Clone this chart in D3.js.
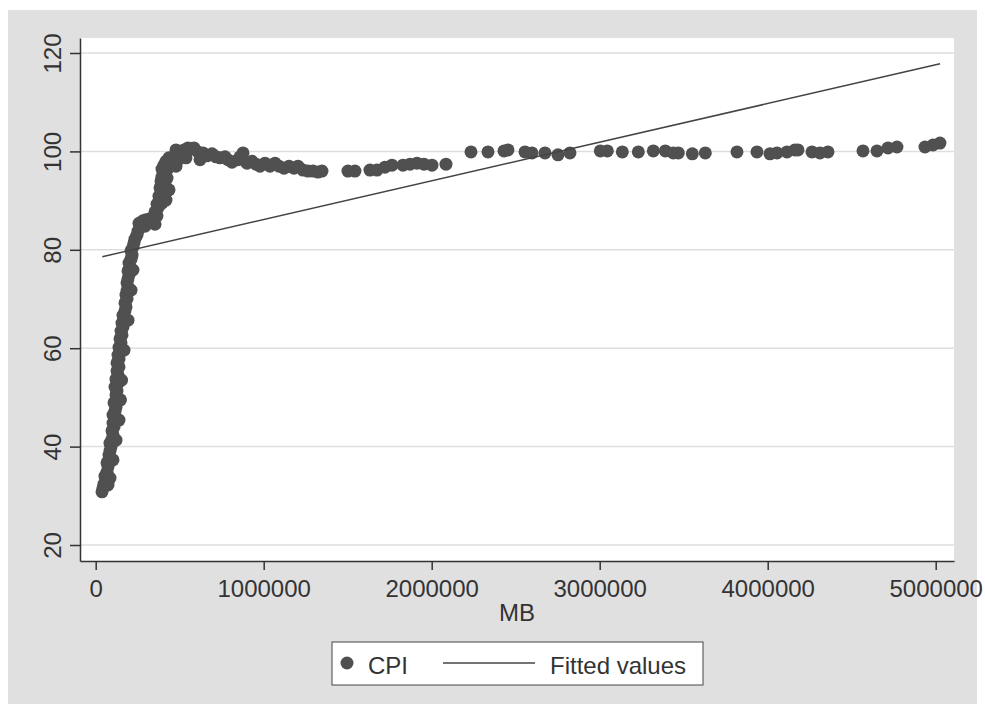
<!DOCTYPE html>
<html>
<head>
<meta charset="utf-8">
<script src="https://cdn.jsdelivr.net/npm/d3@7"></script>
<style>
  body { margin: 0; background: #fff; }
  svg { display: block; font-family: "Liberation Sans", Arial, sans-serif; }
</style>
</head>
<body>
<svg width="985" height="714"></svg>
<script>
// CPI against MB (roughly in time order)
var mb = [
  37500, 43400, 49400, 61300, 55400, 67300, 73200, 67300, 79200, 79200,
  85100, 91100, 85100, 97000, 103000, 97000, 108900, 103000, 114900, 103000,
  114900, 120800, 108900, 126800, 120800, 126800, 114900, 132700, 120800, 132700,
  126800, 138700, 126800, 138700, 132700, 144600, 138700, 150600, 144600, 156500,
  150600, 162500, 156500, 168400, 162500, 174400, 180300, 174400, 186300, 180300,
  186300, 192300, 186300, 192300, 198200, 192300, 204200, 198200, 210100, 216100,
  210100, 222000, 228000, 233900, 245800, 251800, 263700, 257700, 281500, 299400,
  323200, 347000, 364900, 353000, 370800, 364900, 382700, 394600, 376800, 388700,
  382700, 400600, 388700, 418400, 394600, 400600, 394600, 406500, 418400, 436300,
  454100, 472000, 489800, 501700, 525500, 549400, 573200, 585100, 609000, 638700,
  662500, 692300, 716100, 739900, 769600, 787500, 811300, 847000, 876800, 859000,
  900600, 930300, 954100, 977900, 1007700, 1037400, 1067200, 1091000, 1120800, 1150500,
  1180300, 1204100, 1233800, 1263600, 1293400, 1323100, 1346900, 1501500, 1543200, 1632500,
  1674200, 1721800, 1763500, 1829000, 1870700, 1912400, 1954000, 2001700, 2085000, 2233800,
  2335000, 2430200, 2454000, 2555200, 2596900, 2674300, 2751600, 2823000, 3003600, 3045300,
  3134600, 3229800, 3319100, 3390500, 3438100, 3467900, 3551200, 3628600, 3817100, 3936100,
  4013500, 4055200, 4114700, 4162300, 4180200, 4263500, 4311100, 4358700, 4567100, 4650400,
  4715900, 4769400, 4936100, 4983700, 5025300,
  // extra readings along the thick parts of the cloud
  73200, 85100, 103000, 120800, 138700, 147600, 153600, 168400, 192300, 210100,
  222000, 293400, 353000, 418400, 436300, 424400, 424400, 477900, 537600, 621000,
  477900
];
var cpi = [
  30.8, 31.6, 32.4, 33.2, 34.0, 34.8, 35.9, 36.7, 37.5, 38.3,
  39.1, 39.9, 40.7, 41.5, 42.4, 43.2, 44.0, 44.8, 45.6, 46.4,
  47.2, 48.0, 48.9, 49.7, 50.5, 51.3, 52.1, 52.9, 53.7, 54.6,
  55.4, 56.2, 57.0, 57.8, 58.6, 59.4, 60.2, 61.1, 61.9, 62.7,
  63.5, 64.3, 65.1, 65.9, 66.7, 67.6, 68.4, 69.2, 70.0, 70.8,
  71.6, 72.4, 73.3, 74.1, 74.9, 75.7, 76.5, 77.3, 78.1, 78.9,
  79.8, 80.6, 81.4, 82.2, 83.0, 83.8, 84.6, 85.4, 85.9, 86.1,
  86.3, 86.5, 86.9, 87.7, 88.5, 89.3, 90.1, 89.5, 90.9, 91.7,
  92.6, 93.2, 94.0, 94.2, 94.8, 95.6, 96.4, 97.2, 98.0, 98.7,
  97.8, 99.1, 98.3, 99.7, 100.3, 100.7, 100.5, 100.7, 99.9, 99.7,
  99.1, 99.5, 98.9, 98.7, 98.9, 98.3, 97.8, 98.3, 99.7, 98.9,
  97.6, 98.0, 97.4, 97.0, 97.6, 97.0, 97.6, 97.0, 96.6, 97.0,
  96.6, 97.0, 96.2, 96.0, 96.0, 95.8, 96.0, 96.0, 96.0, 96.2,
  96.2, 96.8, 97.2, 97.2, 97.4, 97.6, 97.4, 97.2, 97.4, 99.9,
  99.9, 100.1, 100.3, 99.9, 99.7, 99.7, 99.3, 99.7, 100.1, 100.1,
  99.9, 99.9, 100.1, 100.1, 99.7, 99.7, 99.5, 99.7, 99.9, 99.9,
  99.5, 99.7, 99.9, 100.3, 100.3, 99.9, 99.7, 99.9, 100.1, 100.1,
  100.7, 100.9, 100.9, 101.3, 101.7,
  32.2, 33.6, 37.3, 41.3, 45.4, 49.5, 53.5, 59.6, 65.7, 71.8,
  75.9, 84.8, 85.2, 90.1, 92.2, 94.6, 96.2, 97.0, 98.7, 98.3,
  100.3
];

// fitted line end points
var fitMB = [39300, 5026000];
var fitCPI = [78.6, 117.8];

var xTicks = [0, 1000000, 2000000, 3000000, 4000000, 5000000];
var yTicks = [20, 40, 60, 80, 100, 120];

var ink = '#333333';
var markColor = '#505050';

var svg = d3.select('svg');
var plot = {left: 80, right: 954, top: 38, bottom: 561};

// grey graph region + white plot region
svg.append('rect')
  .attr('x', 8).attr('y', 10)
  .attr('width', 969).attr('height', 694)
  .attr('fill', '#e0e0e0');

svg.append('rect')
  .attr('x', plot.left).attr('y', plot.top)
  .attr('width', plot.right - plot.left).attr('height', plot.bottom - plot.top)
  .attr('fill', '#ffffff');

var x = d3.scaleLinear()
  .domain([-93450, 5108900])
  .range([plot.left, plot.right]);

var y = d3.scaleLinear()
  .domain([16.75, 123.05])
  .range([plot.bottom, plot.top]);

// horizontal grid
svg.selectAll('.grid')
  .data(yTicks)
  .enter().append('line')
  .attr('class', 'grid')
  .attr('x1', plot.left)
  .attr('x2', plot.right)
  .attr('y1', function(d) { return y(d); })
  .attr('y2', function(d) { return y(d); })
  .attr('stroke', '#dedede')
  .attr('stroke-width', 1.5);

// scatter
var pts = mb.map(function(d, i) { return {mb: d, cpi: cpi[i]}; });

svg.selectAll('.dot')
  .data(pts)
  .enter().append('circle')
  .attr('class', 'dot')
  .attr('cx', function(d) { return x(d.mb); })
  .attr('cy', function(d) { return y(d.cpi); })
  .attr('r', 6.5)
  .attr('fill', markColor);

// fitted values
var fit = fitMB.map(function(d, i) { return {mb: d, cpi: fitCPI[i]}; });

svg.append('path')
  .datum(fit)
  .attr('d', d3.line()
    .x(function(d) { return x(d.mb); })
    .y(function(d) { return y(d.cpi); }))
  .attr('fill', 'none')
  .attr('stroke', '#444444')
  .attr('stroke-width', 1.5);

// axes
var xAxis = svg.append('g')
  .attr('transform', 'translate(0,' + plot.bottom + ')')
  .call(d3.axisBottom(x).tickValues(xTicks).tickFormat(d3.format('d')).tickSize(9).tickSizeOuter(0));

xAxis.selectAll('text')
  .attr('y', 36).attr('dy', 0)
  .style('font-size', '24px')
  .attr('fill', ink);

var yAxis = svg.append('g')
  .attr('transform', 'translate(' + plot.left + ',0)')
  .call(d3.axisLeft(y).tickValues(yTicks).tickSize(10).tickSizeOuter(0));

yAxis.selectAll('text')
  .attr('transform', 'rotate(-90)')
  .attr('x', 0).attr('y', -19).attr('dy', 0)
  .style('text-anchor', 'middle')
  .style('font-size', '24px')
  .attr('fill', ink);

svg.selectAll('.domain, .tick line')
  .attr('stroke', ink)
  .attr('stroke-width', 1.5);

svg.append('text')
  .attr('x', (plot.left + plot.right) / 2)
  .attr('y', 621)
  .attr('text-anchor', 'middle')
  .style('font-size', '24px')
  .attr('fill', ink)
  .text('MB');

// legend
var legend = svg.append('g');

legend.append('rect')
  .attr('x', 332).attr('y', 642)
  .attr('width', 371).attr('height', 43)
  .attr('fill', '#ffffff')
  .attr('stroke', '#444444')
  .attr('stroke-width', 1);

legend.append('circle')
  .attr('cx', 347).attr('cy', 663)
  .attr('r', 6.5)
  .attr('fill', markColor);

legend.append('text')
  .attr('x', 368).attr('y', 674)
  .style('font-size', '24px')
  .attr('fill', ink)
  .text('CPI');

legend.append('line')
  .attr('x1', 443).attr('x2', 535)
  .attr('y1', 663).attr('y2', 663)
  .attr('stroke', '#444444')
  .attr('stroke-width', 1.5);

legend.append('text')
  .attr('x', 550).attr('y', 674)
  .style('font-size', '24px')
  .attr('fill', ink)
  .text('Fitted values');
</script>
</body>
</html>
